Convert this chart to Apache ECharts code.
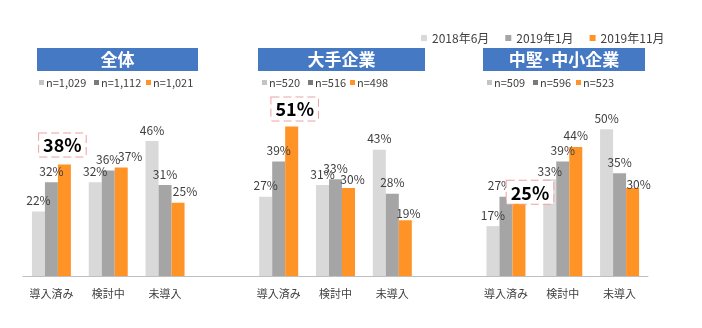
<!DOCTYPE html>
<html>
<head>
<meta charset="utf-8">
<script src="https://cdn.jsdelivr.net/npm/echarts@6/dist/echarts.min.js"></script>
<style>
html,body{margin:0;padding:0;background:#fff;}
#chart{width:702px;height:328px;}
</style>
</head>
<body>
<div id="chart"></div>
<script>
// ---- data ----
const panelTitles = ['全体', '大手企業', '中堅･中小企業'];
const stages = ['導入済み', '検討中', '未導入'];
const seriesNames = ['2018年6月', '2019年1月', '2019年11月'];
const jun2018 = [22, 32, 46, 27, 31, 43, 17, 33, 50];
const jan2019 = [32, 36, 31, 39, 33, 28, 27, 39, 35];
const nov2019 = [38, 37, 25, 51, 30, 19, 25, 44, 30];
const nJun2018 = ['n=1,029', 'n=520', 'n=509'];
const nJan2019 = ['n=1,112', 'n=516', 'n=596'];
const nNov2019 = ['n=1,021', 'n=498', 'n=523'];

// ---- layout / style ----
const FONT = '"Noto Sans CJK JP", "Noto Sans", sans-serif';
const colors = ['#d9d9d9', '#a5a5a5', '#ff9326'];
const nSquareColors = ['#c4c4c4', '#7a7a7a', '#ff9326'];
const titleBoxes = [[37, 161], [258, 167], [483, 162]];
const nSquareX = [[39, 94, 146], [262, 308, 350], [487, 533, 576]];
const highlight = { // series 2 items shown in a box
  0: { distance: 8, offset: [-2, 0] },
  3: { distance: 6, offset: [3, 0] },
  6: { distance: -1, offset: [11, 0] }
};
const nudges = { // [series, index] -> [dx, dy]
  '2-1': [9, 0], '2-2': [7, 0], '2-4': [4, 2], '2-5': [3, 4],
  '1-6': [-6, 0], '2-8': [6, 7], '0-7': [0, 3]
};

// categories with blank gaps between panels
const categories = [];
panelTitles.forEach((t, p) => {
  stages.forEach(s => categories.push(s));
  if (p < panelTitles.length - 1) categories.push('');
});
function withGaps(arr) {
  const out = [];
  for (let p = 0; p < 3; p++) {
    for (let k = 0; k < 3; k++) out.push(arr[p * 3 + k]);
    if (p < 2) out.push(null);
  }
  return out;
}
const rawSeries = [jun2018, jan2019, nov2019];

const series = rawSeries.map((arr, s) => {
  const data = [];
  let idx = 0;
  withGaps(arr).forEach(v => {
    if (v === null) { data.push('-'); return; }
    const i = idx++;
    const item = { value: v };
    if (s === 2 && highlight[i]) {
      item.label = {
        distance: highlight[i].distance,
        offset: highlight[i].offset,
        fontSize: 18, fontWeight: 'bold', color: '#000',
        backgroundColor: '#fff', borderColor: '#f2a0a0', borderType: 'dashed',
        borderWidth: 1, padding: [2, 4, 1, 4], lineHeight: 20
      };
    } else if (nudges[s + '-' + i]) {
      item.label = { offset: nudges[s + '-' + i] };
    }
    data.push(item);
  });
  return {
    name: seriesNames[s], type: 'bar', barWidth: 13, barGap: '0%',
    itemStyle: { color: colors[s] },
    label: { show: true, position: 'top', distance: 5, formatter: '{c}%',
      fontSize: 12, color: '#404040', fontFamily: FONT },
    data: data
  };
});

const graphic = [];
panelTitles.forEach((t, p) => {
  const [x, w] = titleBoxes[p];
  graphic.push({ type: 'rect', left: x, top: 48, shape: { width: w, height: 23 },
    style: { fill: '#4679c3' } });
  graphic.push({ type: 'text', x: x + w / 2, y: 60,
    style: { text: t, fill: '#fff', font: 'bold 17px ' + FONT, textAlign: 'center', textVerticalAlign: 'middle' } });
  const nTexts = [nJun2018[p], nJan2019[p], nNov2019[p]];
  nTexts.forEach((txt, k) => {
    const sx = nSquareX[p][k];
    graphic.push({ type: 'rect', left: sx, top: 80, shape: { width: 5, height: 5 },
      style: { fill: nSquareColors[k] } });
    graphic.push({ type: 'text', x: sx + 7, y: 83,
      style: { text: txt, fill: '#404040', font: '11px ' + FONT, textAlign: 'left', textVerticalAlign: 'middle' } });
  });
});

const chart = echarts.init(document.getElementById('chart'), null, { renderer: 'canvas' });
chart.setOption({
  animation: false,
  textStyle: { fontFamily: FONT },
  legend: {
    data: seriesNames, left: 416, top: 27, icon: 'rect', itemWidth: 6, itemHeight: 6,
    itemGap: 16, textStyle: { fontSize: 12, color: '#404040', fontFamily: FONT }
  },
  grid: { left: 23, right: 54, top: 100, bottom: 52 },
  xAxis: {
    type: 'category', data: categories,
    axisLine: { lineStyle: { color: '#bfbfbf' } },
    axisTick: { length: 5, lineStyle: { color: '#bfbfbf' } },
    axisLabel: { fontSize: 11, color: '#404040', margin: 12, fontFamily: FONT, interval: 0 }
  },
  yAxis: { type: 'value', min: 0, max: 60, show: false },
  series: series,
  graphic: graphic
});
</script>
</body>
</html>
